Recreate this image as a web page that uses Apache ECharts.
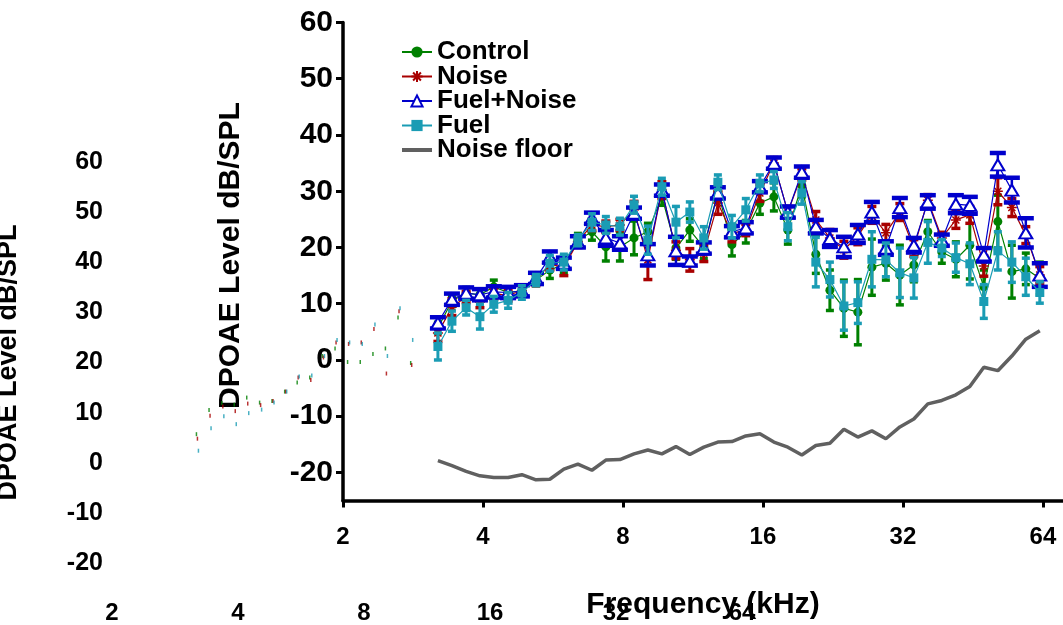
<!DOCTYPE html>
<html><head><meta charset="utf-8">
<script src="https://cdn.jsdelivr.net/npm/echarts@6/dist/echarts.min.js"></script>
<style>html,body{margin:0;padding:0;background:#fff}#c{width:1063px;height:625px}</style>
</head><body><div id="c"></div>
<script>
const freqs = [3.2,3.43,3.68,3.94,4.22,4.53,4.85,5.2,5.57,5.97,6.4,6.86,7.35,7.88,8.45,9.05,9.7,10.4,11.14,11.94,12.8,13.72,14.7,15.76,16.89,18.1,19.4,20.79,22.29,23.89,25.6,27.44,29.41,31.52,33.78,36.2,38.8,41.59,44.57,47.77,51.2,54.88,58.81,63.03];
const controlMean = [5.7,10.5,11.9,11.6,13.0,12.0,12.3,14.2,16.0,17.0,21.3,22.8,20.1,20.1,21.7,22.8,29.0,19.9,23.1,20.0,29.9,20.5,22.8,27.9,29.0,23.1,31.0,18.8,12.4,9.2,8.5,16.5,17.2,15.1,16.9,22.8,19.2,17.9,20.4,13.0,24.6,15.7,16.2,14.5];
const controlSem = [1,1,1,1,1.2,1,1,1,1.5,1.5,1.2,1.5,2.5,2.5,3,1.5,1.5,2,2,2,1.5,2,2,2,2.5,2.5,2,3.4,3.6,5,5.8,5,3,5.3,3,2,2,3.1,6,3,4.7,4.7,2.8,2.9];
const noiseMean = [4.8,9.4,11.2,10.3,11.8,11.5,12.3,14.2,17.0,16.5,21.0,24.0,23.7,24.0,26.7,17.8,30.2,19.5,17.8,19.0,27.9,22.5,23.1,29.7,35.0,26.3,33.0,24.9,21.7,19.6,22.0,25.8,22.6,26.3,19.9,28.4,21.7,24.9,25.8,16.7,30.0,27.1,22.2,15.1];
const noiseSem = [1.5,1.5,1,1,1,1,1,1,1,1.5,1,1,1,1,1.5,3.5,1.5,1.5,2,1.5,2,1.5,1,1.5,1,1,1,1.5,1.5,1.5,1.5,1.5,1.5,1.5,1.5,1,1,1.5,1.5,1.8,2.4,1.6,1.5,1.5];
const fuelNoiseMean = [6.6,10.8,11.9,11.6,12.1,12.0,12.3,14.5,18.3,17.2,21.0,25.2,21.7,20.8,26.1,18.7,30.2,19.4,17.6,19.9,29.7,22.8,23.5,30.8,35.0,26.3,33.4,23.7,21.6,20.1,22.4,26.3,19.9,27.1,20.4,28.1,21.3,27.7,27.5,18.7,34.7,30.2,22.6,15.1];
const fuelNoiseSem = [1,1,1,1,1,1,1,1,1,1,1,1,1.4,1.2,1,1.9,1,2.5,0.8,1,1,1,1,1,1,1,1,1.2,1.5,1.8,1.6,1.8,1.2,1.7,1.3,1.2,1,1.6,1.5,1.2,2.1,2.2,2.6,2.1];
const fuelMean = [2.4,6.9,9.3,7.7,9.9,10.6,12.0,14.2,17.2,17.4,21.3,24.5,24.0,23.7,27.6,21.3,30.8,24.5,26.3,21.7,31.6,23.7,26.7,31.4,32.0,23.7,29.7,17.4,14.3,9.6,10.2,17.9,17.8,15.5,14.6,20.9,19.9,18.2,17.1,10.4,19.4,17.4,14.8,12.0];
const fuelSem = [2.4,1.8,1.3,2.2,1.4,1.4,1.2,1.0,1.4,1.4,1.0,1.5,1.5,1.5,1.5,2.5,1.5,2.8,1.8,2.0,1.3,2.0,2.0,1.5,1.5,2.5,2.0,4.4,3.1,4.3,3.7,4.9,3.0,4.4,3.6,3.7,1.5,2.6,3.7,3.0,3.4,3.6,3.3,1.9];
const noiseFloor = [-17.9,-18.8,-19.8,-20.6,-20.9,-20.9,-20.4,-21.3,-21.2,-19.4,-18.5,-19.6,-17.8,-17.7,-16.7,-16.0,-16.7,-15.4,-16.8,-15.5,-14.6,-14.5,-13.5,-13.1,-14.6,-15.5,-16.9,-15.2,-14.8,-12.3,-13.7,-12.6,-14.0,-11.9,-10.5,-7.8,-7.2,-6.2,-4.7,-1.3,-1.9,0.7,3.7,5.2];
const xTicks = [2,4,8,16,32,64];
const yTicks = [-20,-10,0,10,20,30,40,50,60];
const legendNames = ['Control','Noise','Fuel+Noise','Fuel','Noise floor'];

const FONT = 'Liberation Sans, Arial, sans-serif';
const C = {green:'#008000', red:'#a80000', blue:'#0000cc', teal:'#1a9cb4', gray:'#606060'};
const STAR = 'path://M5 0L5 10M0 5L10 5M1.5 1.5L8.5 8.5M8.5 1.5L1.5 8.5';

function pairs(ys){ return freqs.map((f,i)=>[f, ys[i]]); }
function bars(m, s){ return freqs.map((f,i)=>[f, m[i]-s[i], m[i]+s[i]]); }
function errSeries(name, m, s, color, capW, lw, capT, z){
  return {
    name: name, type:'custom', xAxisIndex:0, yAxisIndex:0, z:z, silent:true,
    encode:{x:0, y:[1,2]},
    data: bars(m, s),
    renderItem: function(params, api){
      const x = api.value(0);
      const lo = api.coord([x, api.value(1)]);
      const hi = api.coord([x, api.value(2)]);
      const h = capW/2;
      return {type:'group', children:[
        {type:'line', shape:{x1:lo[0],y1:lo[1],x2:hi[0],y2:hi[1]}, style:{stroke:color, lineWidth:lw}},
        {type:'line', shape:{x1:lo[0]-h,y1:lo[1],x2:lo[0]+h,y2:lo[1]}, style:{stroke:color, lineWidth:capT}},
        {type:'line', shape:{x1:hi[0]-h,y1:hi[1],x2:hi[0]+h,y2:hi[1]}, style:{stroke:color, lineWidth:capT}}
      ]};
    }
  };
}
function ghost(ys, color, dx){
  return {type:'scatter', xAxisIndex:1, yAxisIndex:1, silent:true, symbol:'rect', symbolSize:[1.5,4],
    symbolOffset:[dx,0], itemStyle:{color:color, opacity:0.8}, data: pairs(ys).slice(0,18), z:1};
}

const legendData = legendNames.map(n => n === 'Noise floor' ? {name:n, icon:'path://M0 0H30V4H0Z'} : {name:n});

const chart = echarts.init(document.getElementById('c'));
chart.setOption({
  animation:false,
  backgroundColor:'#fff',
  textStyle:{fontFamily:FONT},
  legend:{
    data: legendData, orient:'vertical', left:401, top:39, padding:0, itemWidth:30, itemHeight:14, itemGap:-1.5,
    selectedMode:false,
    textStyle:{fontSize:26, fontWeight:'bold', color:'#000', fontFamily:FONT}
  },
  grid:[
    {left:343, top:22.5, right:0, bottom:124.4, outerBoundsMode:'none', containLabel:false},
    {left:112, top:162, width:630, height:401, outerBoundsMode:'none', containLabel:false}
  ],
  xAxis:[
    {type:'log', logBase:2, gridIndex:0, min:2, max:70.7,
     axisLine:{show:true, onZero:false, lineStyle:{color:'#000', width:3.5}},
     axisTick:{show:true, length:7, customValues:xTicks, lineStyle:{color:'#000', width:3}},
     axisLabel:{customValues:xTicks, fontSize:24, fontWeight:'bold', color:'#000', margin:25, fontFamily:FONT},
     splitLine:{show:false}, minorTick:{show:false},
     name:'Frequency (kHz)', nameLocation:'middle', nameGap:89,
     nameTextStyle:{fontSize:30, fontWeight:'bold', color:'#000', fontFamily:FONT}},
    {type:'log', logBase:2, gridIndex:1, min:2, max:64,
     axisLine:{show:false}, axisTick:{show:false}, splitLine:{show:false},
     axisLabel:{customValues:xTicks, fontSize:24, fontWeight:'bold', color:'#000', margin:38, fontFamily:FONT}}
  ],
  yAxis:[
    {type:'value', gridIndex:0, min:-25, max:60,
     axisLine:{show:true, lineStyle:{color:'#000', width:3.5}},
     axisTick:{show:true, length:7, customValues:yTicks, lineStyle:{color:'#000', width:3}},
     axisLabel:{customValues:yTicks, fontSize:30, fontWeight:'bold', color:'#000', margin:10, fontFamily:FONT},
     splitLine:{show:false},
     name:'DPOAE Level dB/SPL', nameLocation:'middle', nameGap:97,
     nameTextStyle:{fontSize:30, fontWeight:'bold', color:'#000', fontFamily:FONT, padding:[0,0,0,12]}},
    {type:'value', gridIndex:1, min:-20, max:60,
     axisLine:{show:false}, axisTick:{show:false}, splitLine:{show:false},
     axisLabel:{customValues:yTicks, fontSize:25, fontWeight:'bold', color:'#000', margin:9, fontFamily:FONT},
     name:'DPOAE Level dB/SPL', nameLocation:'middle', nameGap:90,
     nameTextStyle:{fontSize:27, fontWeight:'bold', color:'#000', fontFamily:FONT}}
  ],
  series:[
    ghost(controlMean, C.green, -1), ghost(noiseMean, C.red, 0), ghost(fuelMean, C.teal, 1),
    errSeries('Control-err', controlMean, controlSem, C.green, 8, 3, 3.5, 2),
    {name:'Control', type:'line', z:2, data:pairs(controlMean), symbol:'circle', symbolSize:9,
     itemStyle:{color:C.green}, lineStyle:{color:C.green, width:1.2}},
    errSeries('Noise-err', noiseMean, noiseSem, C.red, 9, 3, 3.5, 3),
    {name:'Noise', type:'line', z:3, data:pairs(noiseMean), symbol:STAR, symbolSize:10,
     itemStyle:{color:C.red, borderColor:C.red, borderWidth:1.5}, lineStyle:{color:C.red, width:1.2}},
    errSeries('FuelNoise-err', fuelNoiseMean, fuelNoiseSem, C.blue, 16, 2.5, 4.5, 4),
    {name:'Fuel+Noise', type:'line', z:4, data:pairs(fuelNoiseMean), symbol:'emptyTriangle', symbolSize:[13,11],
     itemStyle:{color:C.blue, borderColor:C.blue, borderWidth:1.3}, lineStyle:{color:C.blue, width:1.2}},
    errSeries('Fuel-err', fuelMean, fuelSem, C.teal, 8, 3, 3.5, 5),
    {name:'Fuel', type:'line', z:5, data:pairs(fuelMean), symbol:'rect', symbolSize:9,
     itemStyle:{color:C.teal}, lineStyle:{color:C.teal, width:1.2}},
    {name:'Noise floor', type:'line', z:6, data:pairs(noiseFloor), symbol:'none', showSymbol:false,
     itemStyle:{color:C.gray}, lineStyle:{color:C.gray, width:3.5}}
  ]
});
</script></body></html>
